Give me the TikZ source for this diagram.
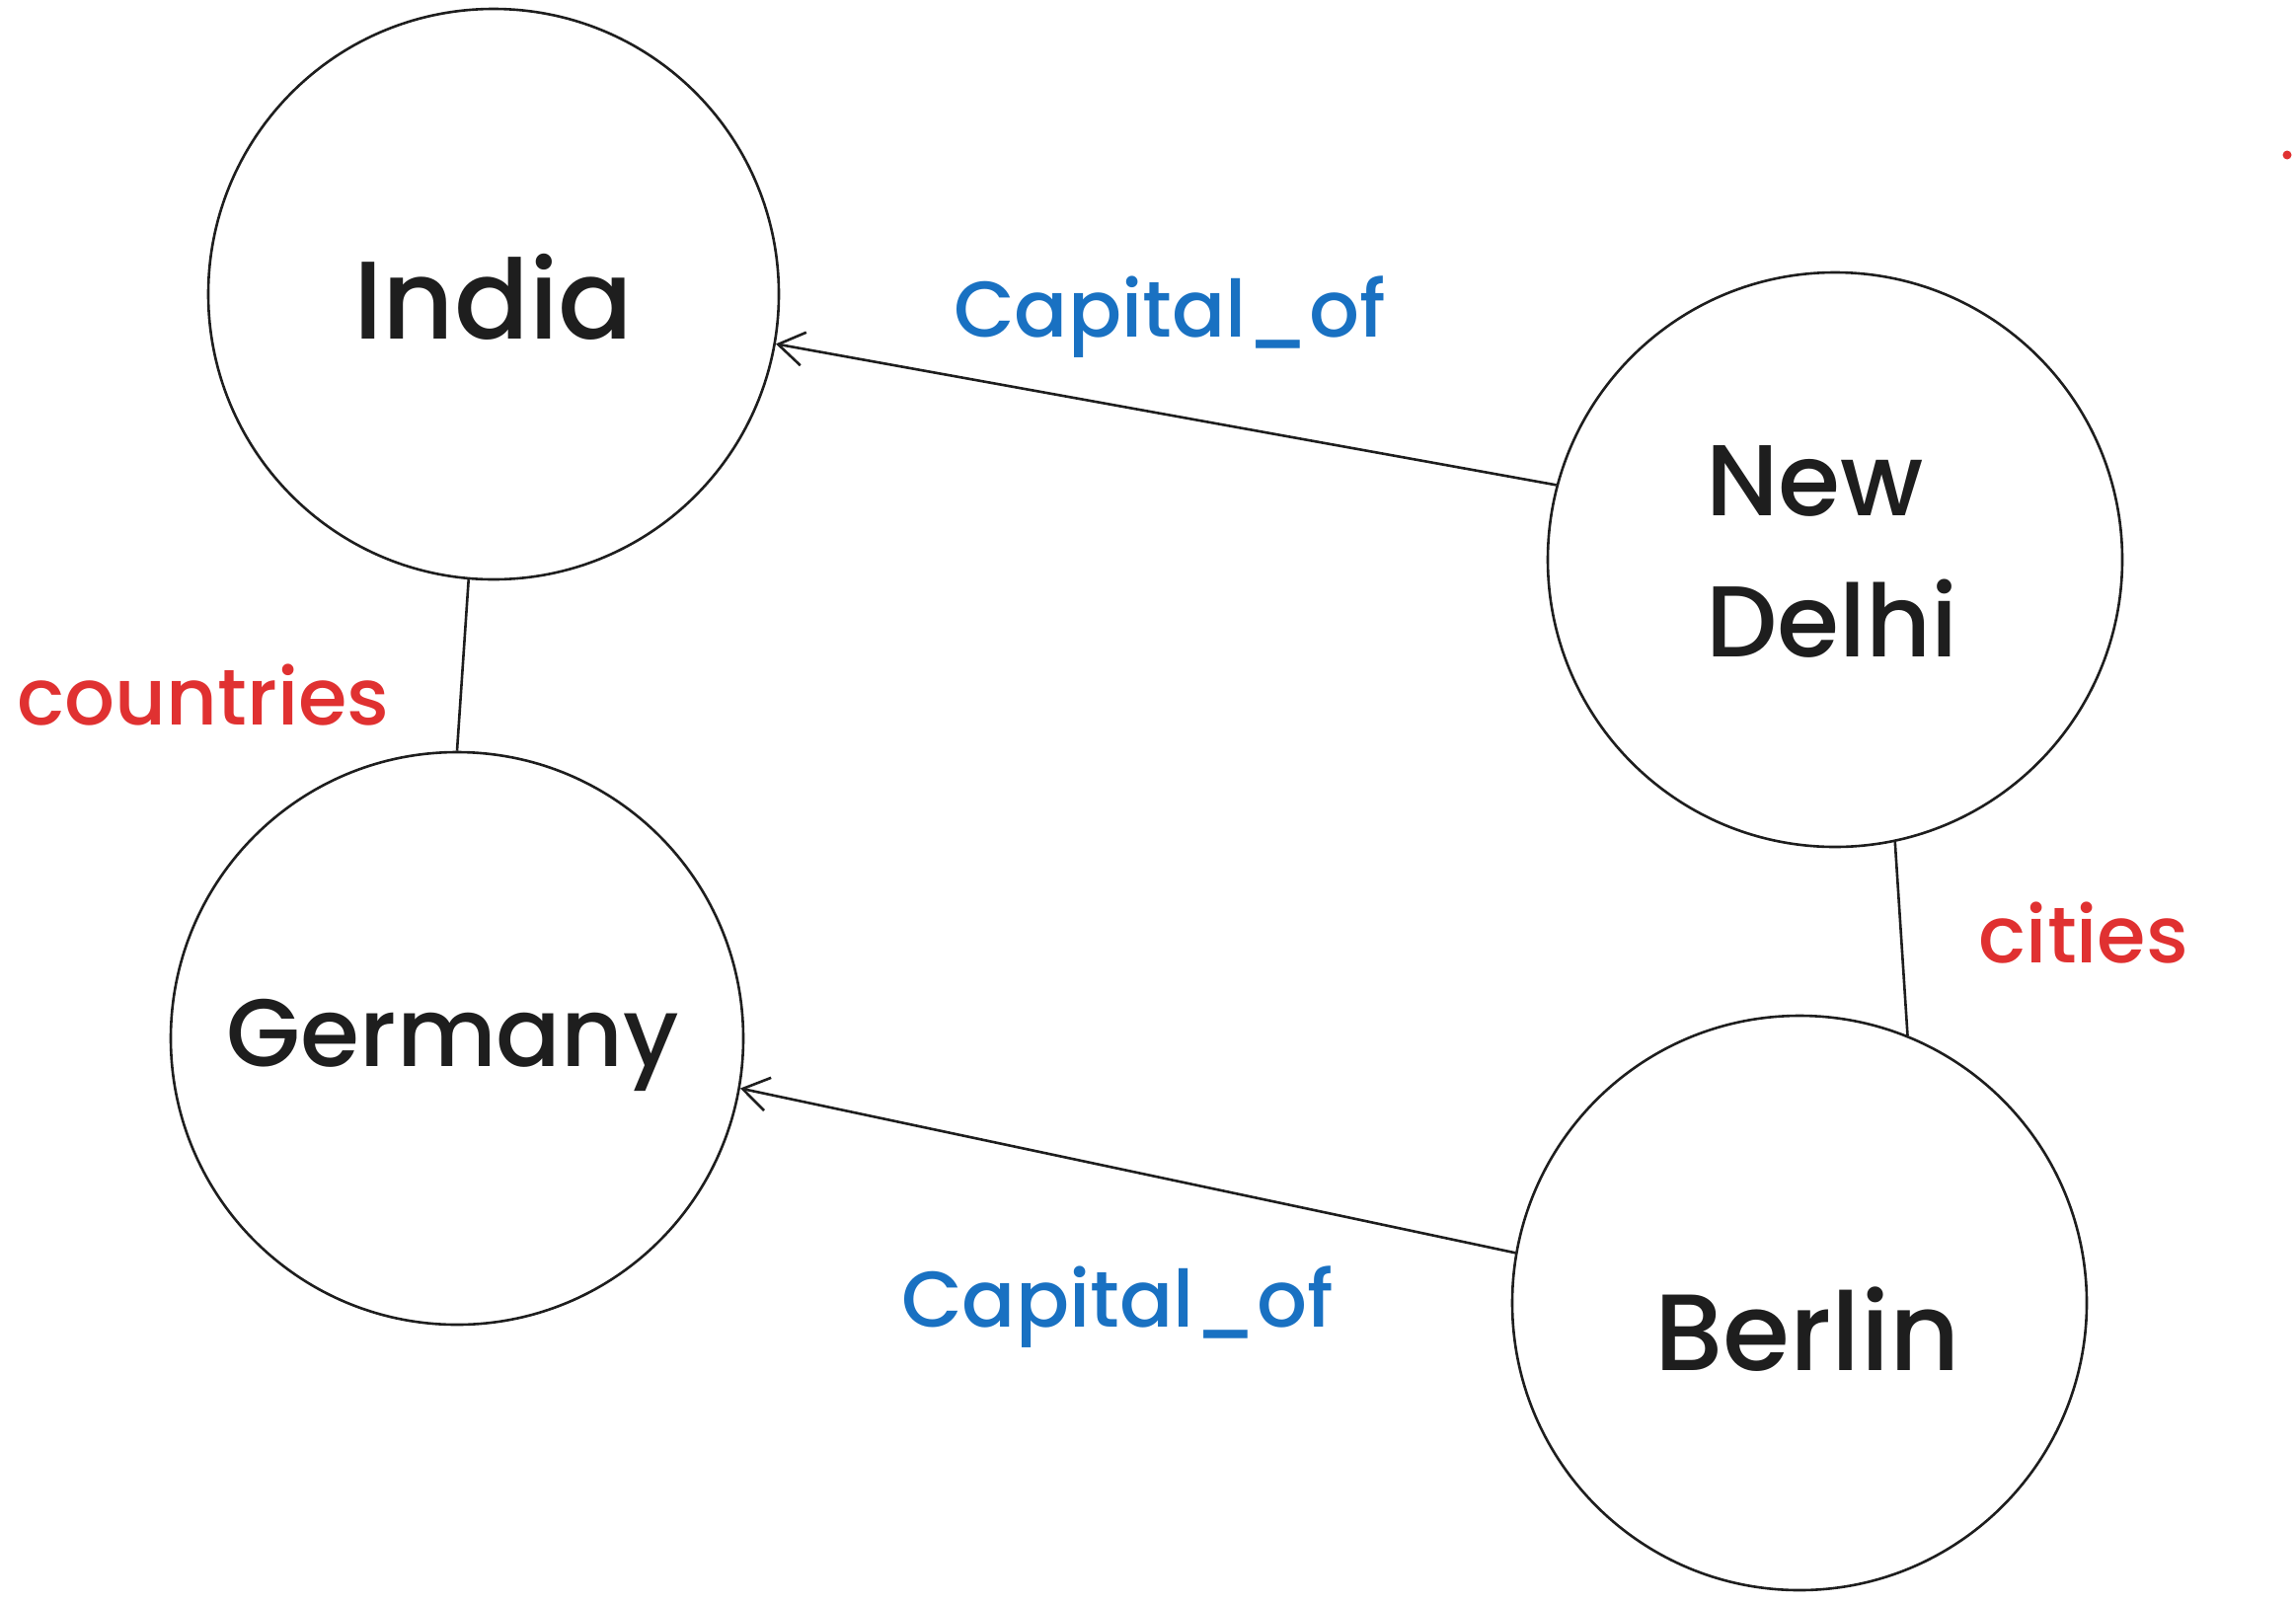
\documentclass[tikz,border=0pt]{standalone}
\usepackage{fontspec}
\IfFontExistsTF{Poppins Medium}
  {\setmainfont{Poppins Medium}}
  {\setmainfont{Poppins}[FakeBold=1.2]}
\usetikzlibrary{arrows.meta}
\definecolor{ink}{HTML}{1E1E1E}
\definecolor{eblue}{HTML}{1971C2}
\definecolor{ered}{HTML}{E03131}
\begin{document}
\begin{tikzpicture}[x=1pt,y=-1pt,
  circ/.style={draw=ink,circle,line width=2.6pt,inner sep=0pt,minimum size=#1},
  nodetext/.style={text=ink,inner sep=0pt,font=\fontsize{#1}{120}\selectfont},
  nodetext/.default=100,
  reltext/.style={text=eblue,inner sep=0pt,font=\fontsize{80}{96}\selectfont},
  grptext/.style={text=ered,inner sep=0pt,font=\fontsize{80}{96}\selectfont},
  conn/.style={draw=ink,line width=2.6pt},
  arr/.style={conn,-{Straight Barb[length=26pt,width=34pt]}}]
\useasboundingbox[fill=white] (0,0) rectangle (2326,1623);
% circles
\node[circ=578pt] (india) at (500,298) {};
\node[circ=582pt] (nd) at (1859,567) {};
\node[circ=580pt] (ger) at (463,1052) {};
\node[circ=582pt] (ber) at (1823,1320) {};
% node texts
\node[nodetext=112,anchor=base] (tindia) at (500,343) {India};
\node[nodetext=102,anchor=base west] (tnew) at (1728,522) {New};
\node[nodetext=102,anchor=base west] (tdelhi) at (1728,665) {Delhi};
\node[nodetext=97,anchor=base] (tger) at (459,1080) {Germany};
\node[nodetext=110,anchor=base] (tber) at (1831,1388) {Berlin};
% connectors
\draw[arr] (nd.165) -- (india.-10);
\draw[arr] (ber.170) -- (ger.-10);
\draw[conn] (india.-95) -- (ger.90);
\draw[conn] (nd.-78) -- (ber.68);
% labels
\node[reltext,anchor=base] (cap1) at (1185,341) {Capital\_of};
\node[reltext,anchor=base] (cap2) at (1132,1344) {Capital\_of};
\node[grptext,anchor=base] (lcountries) at (206,734) {countries};
\node[grptext,anchor=base] (lcities) at (2111,975) {cities};
% dot
\fill[ered] (2317,157) circle (4.5);
\end{tikzpicture}
\end{document}
